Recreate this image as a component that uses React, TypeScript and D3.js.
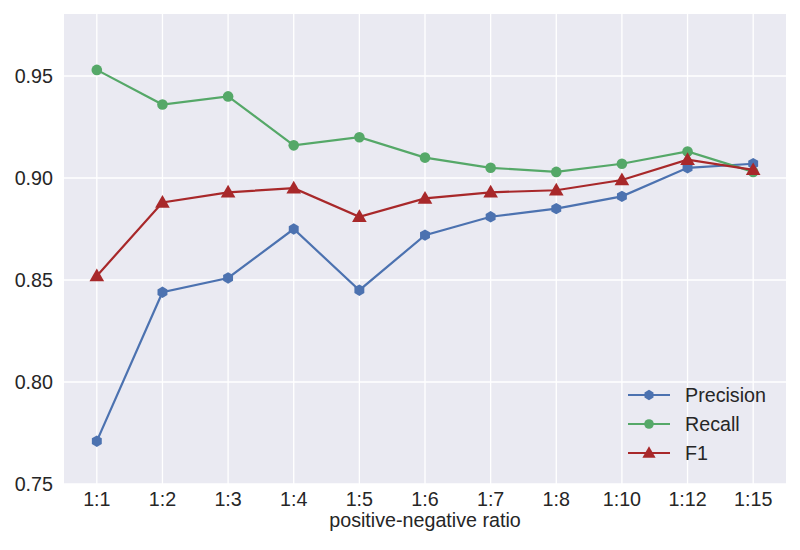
import React from "react";
import * as d3 from "d3";

const ratios = ["1:1", "1:2", "1:3", "1:4", "1:5", "1:6", "1:7", "1:8", "1:10", "1:12", "1:15"];
const precision = [0.771, 0.844, 0.851, 0.875, 0.845, 0.872, 0.881, 0.885, 0.891, 0.905, 0.907];
const recall = [0.953, 0.936, 0.940, 0.916, 0.920, 0.910, 0.905, 0.903, 0.907, 0.913, 0.903];
const f1 = [0.852, 0.888, 0.893, 0.895, 0.881, 0.890, 0.893, 0.894, 0.899, 0.909, 0.904];
const yTicks = [0.75, 0.8, 0.85, 0.9, 0.95];

const series = [
  { name: "Precision", values: precision, color: "#4c72b0", marker: "hex" },
  { name: "Recall", values: recall, color: "#55a868", marker: "circle" },
  { name: "F1", values: f1, color: "#a8282a", marker: "tri" },
];

const W = 800;
const H = 550;
const margin = { top: 14, right: 14, bottom: 66, left: 64 };
const FONT = "'Liberation Sans', Arial, sans-serif";
const FS = 19.7;

function Marker({ type, x, y, color, r = 5.3 }: { type: string; x: number; y: number; color: string; r?: number }) {
  if (type === "circle") return <circle cx={x} cy={y} r={r} fill={color} />;
  if (type === "tri") {
    const s = d3.symbol(d3.symbolTriangle, r * r * 3.3)();
    return <path d={s || ""} transform={`translate(${x},${y + 1})`} fill={color} />;
  }
  // hexagon, pointy top
  const pts = d3.range(6).map((i) => {
    const a = (Math.PI / 3) * i - Math.PI / 2;
    return [x + r * 1.08 * Math.cos(a), y + r * 1.08 * Math.sin(a)];
  });
  return <polygon points={pts.map((p) => p.join(",")).join(" ")} fill={color} />;
}

export default function App() {
  const x = d3
    .scalePoint<string>()
    .domain(ratios)
    .range([margin.left, W - margin.right])
    .padding(0.5);
  const y = d3
    .scaleLinear()
    .domain([0.75, 0.9804])
    .range([H - margin.bottom, margin.top]);

  const line = d3
    .line<number>()
    .x((_, i) => x(ratios[i]) as number)
    .y((d) => y(d));

  const plotW = W - margin.left - margin.right;
  const plotH = H - margin.top - margin.bottom;

  const legendX = 628;
  const legendY = 395;
  const legendGap = 29;

  return (
    <div style={{ position: "fixed", left: 0, top: 0 }}>
      <svg width={W} height={H} style={{ fontFamily: FONT, display: "block" }}>
        <rect x={0} y={0} width={W} height={H} fill="#ffffff" />
        <rect x={margin.left} y={margin.top} width={plotW} height={plotH} fill="#eaeaf2" />
        {yTicks.map((t) => (
          <line key={"gy" + t} x1={margin.left} x2={W - margin.right} y1={y(t)} y2={y(t)} stroke="#ffffff" strokeWidth={1.3} />
        ))}
        {ratios.map((r) => (
          <line key={"gx" + r} x1={x(r)} x2={x(r)} y1={margin.top} y2={H - margin.bottom} stroke="#ffffff" strokeWidth={1.3} />
        ))}
        {yTicks.map((t) => (
          <text key={"ty" + t} x={margin.left - 11} y={y(t) + 7} textAnchor="end" fontSize={FS} fill="#262626">
            {t.toFixed(2)}
          </text>
        ))}
        {ratios.map((r) => (
          <text key={"tx" + r} x={x(r)} y={505.5} textAnchor="middle" fontSize={FS} fill="#262626">
            {r}
          </text>
        ))}
        <text x={margin.left + plotW / 2} y={527} textAnchor="middle" fontSize={FS} fill="#262626">
          positive-negative ratio
        </text>

        {series.map((s) => (
          <g key={s.name}>
            <path d={line(s.values) || ""} fill="none" stroke={s.color} strokeWidth={2.2} />
            {s.values.map((v, i) => (
              <Marker key={i} type={s.marker} x={x(ratios[i]) as number} y={y(v)} color={s.color} />
            ))}
          </g>
        ))}

        {series.map((s, i) => {
          const ly = legendY + i * legendGap;
          return (
            <g key={"lg" + s.name}>
              <line x1={legendX} x2={legendX + 42} y1={ly} y2={ly} stroke={s.color} strokeWidth={2.2} />
              <Marker type={s.marker} x={legendX + 21} y={ly} color={s.color} r={4.8} />
              <text x={legendX + 57} y={ly + 7} fontSize={FS} fill="#262626">
                {s.name}
              </text>
            </g>
          );
        })}
      </svg>
    </div>
  );
}
